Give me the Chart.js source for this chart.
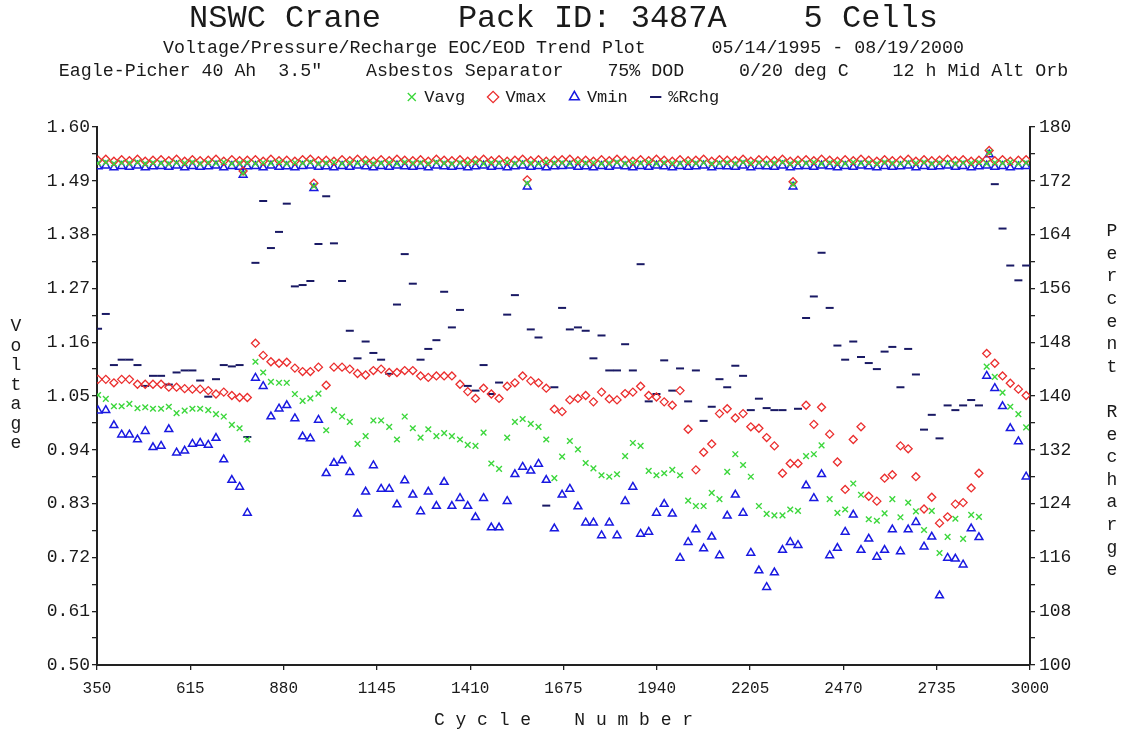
<!DOCTYPE html>
<html>
<head>
<meta charset="utf-8">
<title>NSWC Crane Pack 3487A trend plot</title>
<script src="https://cdn.jsdelivr.net/npm/chart.js@4/dist/chart.umd.min.js"></script>
<style>
  html, body { margin: 0; padding: 0; background: #fff; }
</style>
</head>
<body>
<canvas id="trendChart" width="1127" height="733"></canvas>
<script>
// cycle numbers of the regular samples
var cycles = [
  353, 375, 398, 420, 442, 465, 487, 509, 532, 554,
  576, 599, 621, 643, 666, 688, 710, 733, 755, 777,
  800, 822, 844, 867, 889, 912, 934, 956, 979, 1001,
  1023, 1046, 1068, 1090, 1113, 1135, 1157, 1180, 1202, 1224,
  1247, 1269, 1291, 1314, 1336, 1358, 1381, 1403, 1425, 1448,
  1470, 1492, 1515, 1537, 1559, 1582, 1604, 1626, 1649, 1671,
  1693, 1716, 1738, 1760, 1783, 1805, 1827, 1850, 1872, 1894,
  1917, 1939, 1961, 1984, 2006, 2029, 2051, 2073, 2096, 2118,
  2140, 2163, 2185, 2207, 2230, 2252, 2274, 2297, 2319, 2341,
  2364, 2386, 2408, 2431, 2453, 2475, 2498, 2520, 2542, 2565,
  2587, 2609, 2632, 2654, 2676, 2699, 2721, 2743, 2766, 2788,
  2810, 2833, 2855, 2877, 2900, 2922, 2944, 2967, 2989
];

// end of charge voltages
var vavgEoc = [
  1.526, 1.528, 1.525, 1.527, 1.526, 1.528, 1.525, 1.527, 1.526, 1.525,
  1.527, 1.526, 1.528, 1.525, 1.527, 1.526, 1.528, 1.525, 1.526, 1.527,
  1.525, 1.527, 1.526, 1.528, 1.525, 1.527, 1.526, 1.528, 1.525, 1.526,
  1.528, 1.525, 1.527, 1.526, 1.528, 1.525, 1.526, 1.527, 1.525, 1.528,
  1.526, 1.527, 1.525, 1.528, 1.526, 1.525, 1.527, 1.526, 1.528, 1.525,
  1.527, 1.526, 1.528, 1.525, 1.527, 1.526, 1.525, 1.528, 1.526, 1.527,
  1.525, 1.528, 1.526, 1.527, 1.525, 1.526, 1.528, 1.525, 1.527, 1.526,
  1.528, 1.525, 1.527, 1.526, 1.525, 1.528, 1.526, 1.527, 1.525, 1.526,
  1.527, 1.525, 1.528, 1.526, 1.527, 1.525, 1.526, 1.528, 1.525, 1.527,
  1.526, 1.528, 1.525, 1.527, 1.526, 1.525, 1.528, 1.526, 1.527, 1.525,
  1.528, 1.526, 1.525, 1.527, 1.526, 1.528, 1.525, 1.527, 1.526, 1.525,
  1.527, 1.526, 1.528, 1.525, 1.527, 1.526, 1.528, 1.525, 1.527
];
var vmaxEoc = [
  1.532, 1.534, 1.530, 1.533, 1.531, 1.534, 1.530, 1.532, 1.533, 1.531,
  1.534, 1.530, 1.533, 1.531, 1.532, 1.534, 1.530, 1.533, 1.531, 1.532,
  1.533, 1.530, 1.534, 1.531, 1.532, 1.530, 1.533, 1.534, 1.531, 1.532,
  1.530, 1.533, 1.531, 1.534, 1.532, 1.530, 1.533, 1.531, 1.534, 1.532,
  1.531, 1.533, 1.530, 1.534, 1.532, 1.531, 1.533, 1.530, 1.532, 1.534,
  1.531, 1.533, 1.530, 1.532, 1.534, 1.531, 1.533, 1.530, 1.532, 1.533,
  1.534, 1.531, 1.532, 1.530, 1.533, 1.531, 1.534, 1.532, 1.530, 1.533,
  1.531, 1.534, 1.532, 1.530, 1.533, 1.531, 1.532, 1.534, 1.530, 1.533,
  1.532, 1.531, 1.534, 1.530, 1.533, 1.532, 1.531, 1.534, 1.530, 1.532,
  1.533, 1.531, 1.534, 1.532, 1.530, 1.533, 1.531, 1.534, 1.532, 1.530,
  1.533, 1.531, 1.532, 1.534, 1.530, 1.533, 1.531, 1.532, 1.534, 1.531,
  1.533, 1.530, 1.532, 1.534, 1.531, 1.533, 1.530, 1.532, 1.533
];
var vminEoc = [
  1.519, 1.521, 1.517, 1.520, 1.518, 1.521, 1.517, 1.519, 1.520, 1.518,
  1.521, 1.517, 1.520, 1.518, 1.519, 1.521, 1.517, 1.520, 1.518, 1.519,
  1.520, 1.517, 1.521, 1.518, 1.519, 1.517, 1.520, 1.521, 1.518, 1.519,
  1.517, 1.520, 1.518, 1.521, 1.519, 1.517, 1.520, 1.518, 1.521, 1.519,
  1.518, 1.520, 1.517, 1.521, 1.519, 1.518, 1.520, 1.517, 1.519, 1.521,
  1.518, 1.520, 1.517, 1.519, 1.521, 1.518, 1.520, 1.517, 1.519, 1.520,
  1.521, 1.518, 1.519, 1.517, 1.520, 1.518, 1.521, 1.519, 1.517, 1.520,
  1.518, 1.521, 1.519, 1.517, 1.520, 1.518, 1.519, 1.521, 1.517, 1.520,
  1.519, 1.518, 1.521, 1.517, 1.520, 1.519, 1.518, 1.521, 1.517, 1.519,
  1.520, 1.518, 1.521, 1.519, 1.517, 1.520, 1.518, 1.521, 1.519, 1.517,
  1.520, 1.518, 1.519, 1.521, 1.517, 1.520, 1.518, 1.519, 1.521, 1.518,
  1.520, 1.517, 1.519, 1.521, 1.518, 1.520, 1.517, 1.519, 1.520
];

// odd end of charge samples (dips / peak)
var dipCycles = [765, 966, 1572, 2327, 2884];
var dipVavg = [1.506, 1.479, 1.485, 1.483, 1.548];
var dipVmax = [1.510, 1.485, 1.492, 1.488, 1.552];
var dipVmin = [1.502, 1.475, 1.478, 1.478, 1.544];

// end of discharge voltages
var vavgEod = [
  1.052, 1.044, 1.029, 1.029, 1.034, 1.025, 1.027, 1.024, 1.024, 1.028,
  1.015, 1.020, 1.024, 1.024, 1.021, 1.013, 1.008, 0.991, 0.984, 0.961,
  1.120, 1.098, 1.079, 1.077, 1.077, 1.054, 1.040, 1.045, 1.055, 0.980,
  1.021, 1.008, 0.997, 0.952, 0.968, 1.000, 1.000, 0.987, 0.961, 1.008,
  0.984, 0.965, 0.982, 0.968, 0.974, 0.968, 0.961, 0.950, 0.948, 0.975,
  0.912, 0.901, 0.965, 0.997, 1.003, 0.993, 0.987, 0.961, 0.882, 0.926,
  0.958, 0.941, 0.913, 0.902, 0.888, 0.885, 0.890, 0.927, 0.954, 0.948,
  0.897, 0.888, 0.892, 0.899, 0.888, 0.836, 0.825, 0.825, 0.852, 0.839,
  0.895, 0.931, 0.909, 0.885, 0.825, 0.809, 0.806, 0.806, 0.818, 0.815,
  0.927, 0.931, 0.949, 0.839, 0.811, 0.818, 0.871, 0.848, 0.798, 0.795,
  0.810, 0.839, 0.802, 0.832, 0.814, 0.776, 0.815, 0.729, 0.762, 0.799,
  0.758, 0.807, 0.803, 1.110, 1.089, 1.057, 1.028, 1.013, 0.986
];
var vmaxEod = [
  1.084, 1.084, 1.077, 1.084, 1.084, 1.074, 1.074, 1.074, 1.074, 1.068,
  1.068, 1.065, 1.064, 1.064, 1.061, 1.054, 1.058, 1.051, 1.047, 1.047,
  1.158, 1.133, 1.120, 1.117, 1.119, 1.107, 1.100, 1.100, 1.109, 1.072,
  1.109, 1.109, 1.105, 1.096, 1.093, 1.102, 1.105, 1.098, 1.098, 1.102,
  1.102, 1.091, 1.088, 1.091, 1.091, 1.091, 1.074, 1.059, 1.045, 1.066,
  1.054, 1.045, 1.070, 1.077, 1.091, 1.081, 1.077, 1.066, 1.023, 1.018,
  1.042, 1.045, 1.051, 1.038, 1.058, 1.044, 1.042, 1.055, 1.058, 1.070,
  1.051, 1.048, 1.038, 1.031, 1.061, 0.982, 0.899, 0.935, 0.952, 1.014,
  1.024, 1.005, 1.014, 0.987, 0.984, 0.965, 0.948, 0.892, 0.912, 0.912,
  1.031, 0.992, 1.027, 0.972, 0.915, 0.859, 0.961, 0.987, 0.845, 0.835,
  0.882, 0.889, 0.948, 0.942, 0.885, 0.819, 0.843, 0.790, 0.803, 0.829,
  0.832, 0.862, 0.892, 1.137, 1.117, 1.091, 1.076, 1.064, 1.051
];
var vminEod = [
  1.020, 1.021, 0.990, 0.971, 0.971, 0.961, 0.978, 0.945, 0.948, 0.982,
  0.934, 0.938, 0.952, 0.954, 0.950, 0.964, 0.920, 0.878, 0.864, 0.811,
  1.087, 1.070, 1.008, 1.024, 1.031, 1.004, 0.967, 0.963, 1.001, 0.892,
  0.913, 0.918, 0.894, 0.809, 0.854, 0.908, 0.860, 0.860, 0.828, 0.877,
  0.848, 0.814, 0.854, 0.825, 0.874, 0.825, 0.841, 0.825, 0.802, 0.841,
  0.781, 0.781, 0.835, 0.890, 0.905, 0.897, 0.911, 0.878, 0.779, 0.848,
  0.860, 0.824, 0.791, 0.791, 0.765, 0.791, 0.765, 0.835, 0.864, 0.768,
  0.772, 0.811, 0.829, 0.809, 0.719, 0.751, 0.777, 0.738, 0.762, 0.724,
  0.805, 0.848, 0.811, 0.729, 0.693, 0.659, 0.689, 0.735, 0.751, 0.745,
  0.867, 0.841, 0.890, 0.724, 0.739, 0.772, 0.807, 0.735, 0.758, 0.721,
  0.735, 0.777, 0.732, 0.777, 0.792, 0.742, 0.762, 0.642, 0.719, 0.717,
  0.705, 0.779, 0.761, 1.091, 1.066, 1.029, 0.984, 0.957, 0.885
];

// percent recharge
var rchg = [
  150.0, 152.2, 144.6, 145.4, 145.4, 144.6, 141.5, 143.0, 143.0, 141.7,
  143.5, 143.8, 143.8, 142.3, 139.9, 142.5, 144.6, 144.4, 144.6, 133.9,
  159.8, 169.0, 162.0, 164.4, 168.6, 156.3, 156.5, 157.1, 162.6, 169.7,
  162.7, 157.1, 149.7, 145.6, 148.1, 146.4, 145.4, 143.3, 153.6, 161.1,
  156.7, 145.4, 147.0, 148.3, 155.5, 150.2, 152.8, 141.5, 140.8, 144.6,
  140.3, 142.0, 152.1, 155.0, null, 149.9, 148.7, 123.7, 141.3, 153.1,
  149.9, 150.2, 149.7, 145.6, 149.0, 143.8, 143.8, 147.7, 143.8, 159.6,
  139.2, 140.3, 145.3, 140.8, 144.1, 139.2, 143.8, 136.3, 138.4, 142.5,
  141.3, 144.5, 143.0, 137.9, 139.6, 138.2, 137.9, 137.9, null, 138.1,
  151.6, 154.8, 161.3, 153.1, 147.5, 145.4, 148.1, 145.8, 144.9, 144.0,
  146.6, 147.3, 141.3, 147.0, 143.2, 135.0, 137.2, 133.7, 138.6, 137.9,
  138.6, 139.4, 138.6, null, 171.5, 164.9, 159.4, 157.2, 159.4
];

// axis ticks
var cycleTicks = [350, 615, 880, 1145, 1410, 1675, 1940, 2205, 2470, 2735, 3000];
var voltLabels = [0.50, 0.61, 0.72, 0.83, 0.94, 1.05, 1.16, 1.27, 1.38, 1.49, 1.60];
var voltMinor = [0.555, 0.665, 0.775, 0.885, 0.995, 1.105, 1.215, 1.325, 1.435, 1.545];
var pctLabels = [100, 108, 116, 124, 132, 140, 148, 156, 164, 172, 180];
var pctMinor = [104, 112, 120, 128, 136, 144, 152, 160, 168, 176];

var leftTitle = 'Voltage';
var rightTitle = 'Percent Recharge';

var MONO = '"Liberation Mono", "DejaVu Sans Mono", monospace';
var INK = '#1a1a1a';

function toPoints(xs, ys) {
    var out = [];
    xs.forEach(function (x, i) {
        if (ys[i] !== null) out.push({x: x, y: ys[i]});
    });
    return out;
}

function tickList(major, minor) {
    return major.concat(minor).sort(function (a, b) { return a - b; }).map(function (v) { return {value: v}; });
}

// letters stacked one under the other beside the chart
var stackedTitles = {
    id: 'stackedTitles',
    afterDraw: function (chart) {
        var ctx = chart.ctx, area = chart.chartArea;
        var mid = (area.top + area.bottom) / 2;
        ctx.save();
        ctx.font = '18px ' + MONO;
        ctx.fillStyle = INK;
        ctx.textAlign = 'center';
        ctx.textBaseline = 'middle';
        // [text, x, vertical shift, letter step]
        [[leftTitle, area.left - 81, -11, 19.5], [rightTitle, area.right + 82, 5, 22.6]].forEach(function (t) {
            var letters = t[0].split('');
            letters.forEach(function (ch, i) {
                ctx.fillText(ch, t[1], mid + t[2] + (i - (letters.length - 1) / 2) * t[3]);
            });
        });
        ctx.restore();
    }
};

var axisGrid = {drawOnChartArea: false, tickLength: 5, color: '#222', lineWidth: 1.3};
var axisBorder = {color: '#222', width: 2};

let trendCanvas = document.getElementById('trendChart').getContext('2d');
let trendChart = new Chart(trendCanvas, {
    type: 'scatter',
    data: {
        datasets: [{
            label: 'Vavg',
            data: toPoints(cycles, vavgEoc).concat(toPoints(dipCycles, dipVavg), toPoints(cycles, vavgEod)),
            pointStyle: 'crossRot',
            pointRadius: 4,
            borderColor: 'rgb(60,215,60)',
            backgroundColor: 'rgb(60,215,60)',
            pointBorderWidth: 1.4,
            yAxisID: 'y'
        }, {
            label: 'Vmax',
            data: toPoints(cycles, vmaxEoc).concat(toPoints(dipCycles, dipVmax), toPoints(cycles, vmaxEod)),
            pointStyle: 'rectRot',
            pointRadius: 4,
            borderColor: 'rgb(235,45,45)',
            backgroundColor: 'rgba(255,255,255,0)',
            pointBorderWidth: 1.3,
            yAxisID: 'y'
        }, {
            label: 'Vmin',
            data: toPoints(cycles, vminEoc).concat(toPoints(dipCycles, dipVmin), toPoints(cycles, vminEod)),
            pointStyle: 'triangle',
            pointRadius: 4.5,
            borderColor: 'rgb(25,25,225)',
            backgroundColor: 'rgba(255,255,255,0)',
            pointBorderWidth: 1.5,
            yAxisID: 'y'
        }, {
            label: '%Rchg',
            data: toPoints(cycles, rchg),
            pointStyle: 'line',
            pointRadius: 4,
            borderColor: 'rgb(25,25,100)',
            backgroundColor: 'rgb(25,25,100)',
            pointBorderWidth: 2,
            yAxisID: 'y1'
        }]
    },
    options: {
        responsive: false,
        animation: false,
        layout: {padding: 0},
        plugins: {
            title: {
                display: true,
                text: 'NSWC Crane    Pack ID: 3487A    5 Cells',
                color: INK,
                font: {family: MONO, size: 32, weight: 'normal', lineHeight: 1.0},
                padding: {top: 3, bottom: 0}
            },
            subtitle: {
                display: true,
                text: [
                    'Voltage/Pressure/Recharge EOC/EOD Trend Plot      05/14/1995 - 08/19/2000',
                    'Eagle-Picher 40 Ah  3.5"    Asbestos Separator    75% DOD     0/20 deg C    12 h Mid Alt Orb'
                ],
                color: INK,
                font: {family: MONO, size: 18.3, weight: 'normal', lineHeight: 1.25},
                padding: {top: 1.5, bottom: -17.75}
            },
            legend: {
                display: true,
                labels: {
                    usePointStyle: true,
                    boxWidth: 8,
                    boxHeight: 8,
                    padding: 24,
                    color: INK,
                    font: {family: MONO, size: 17}
                }
            },
            tooltip: {enabled: false}
        },
        scales: {
            x: {
                type: 'linear',
                position: 'bottom',
                min: 350,
                max: 3000,
                afterBuildTicks: function (s) { s.ticks = tickList(cycleTicks, []); },
                afterFit: function (s) { s.height = 68; },
                ticks: {
                    autoSkip: false,
                    maxRotation: 0,
                    padding: 9,
                    color: INK,
                    font: {family: MONO, size: 16},
                    callback: function (v) { return String(v); }
                },
                grid: axisGrid,
                border: axisBorder,
                title: {
                    display: true,
                    text: 'C y c l e    N u m b e r',
                    color: INK,
                    font: {family: MONO, size: 18},
                    padding: {top: 4, bottom: 2}
                }
            },
            spacer: {
                type: 'linear',
                position: 'top',
                axis: 'x',
                ticks: {display: false},
                grid: {display: false},
                border: {display: false},
                afterFit: function (s) { s.height = 11.5; }
            },
            y: {
                type: 'linear',
                position: 'left',
                min: 0.5,
                max: 1.6,
                afterBuildTicks: function (s) { s.ticks = tickList(voltLabels, voltMinor); },
                afterFit: function (s) { s.width = 97; },
                ticks: {
                    autoSkip: false,
                    padding: 2,
                    color: INK,
                    font: {family: MONO, size: 18},
                    callback: function (v) { return voltLabels.indexOf(v) >= 0 ? v.toFixed(2) : ''; }
                },
                grid: axisGrid,
                border: axisBorder
            },
            y1: {
                type: 'linear',
                position: 'right',
                min: 100,
                max: 180,
                afterBuildTicks: function (s) { s.ticks = tickList(pctLabels, pctMinor); },
                afterFit: function (s) { s.width = 97; },
                ticks: {
                    autoSkip: false,
                    padding: 4,
                    color: INK,
                    font: {family: MONO, size: 18},
                    callback: function (v) { return pctLabels.indexOf(v) >= 0 ? String(v) : ''; }
                },
                grid: axisGrid,
                border: axisBorder
            }
        }
    },
    plugins: [stackedTitles]
});
</script>
</body>
</html>
